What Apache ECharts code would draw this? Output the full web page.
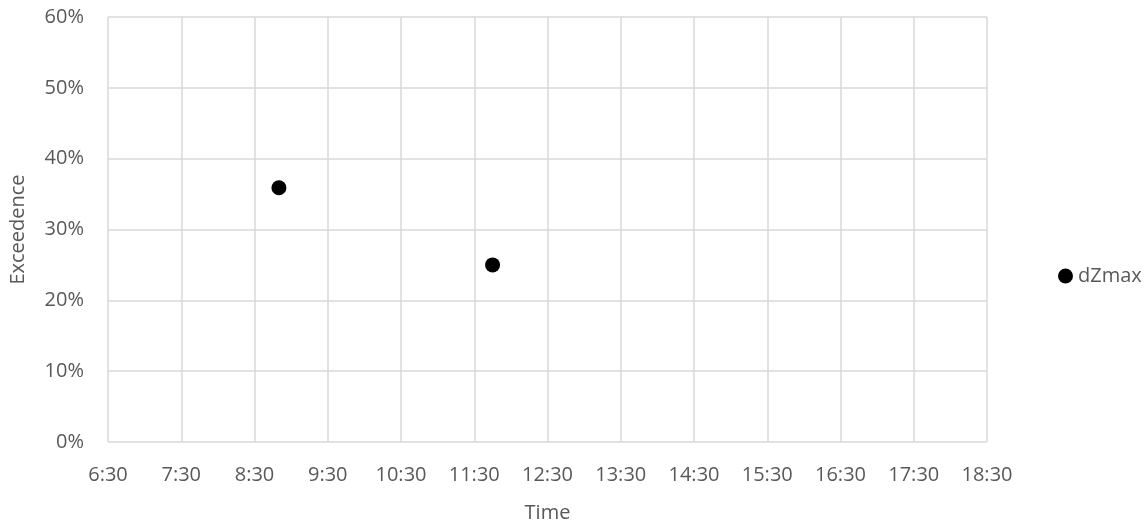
<!DOCTYPE html>
<html>
<head>
<meta charset="utf-8">
<script src="https://cdn.jsdelivr.net/npm/echarts@6/dist/echarts.min.js"></script>
<style>
html,body{margin:0;padding:0;background:#fff;}
#chart{width:1147px;height:528px;}
</style>
</head>
<body>
<div id="chart"></div>
<script>
// Data
const seriesName = 'dZmax';
const times = ['8:50', '11:45'];
const exceedence = [35.9, 25.0]; // percent
const xTickLabels = ['6:30','7:30','8:30','9:30','10:30','11:30','12:30','13:30','14:30','15:30','16:30','17:30','18:30'];
const yTickLabels = ['0%','10%','20%','30%','40%','50%','60%'];

function toHours(t){ const p = t.split(':'); return +p[0] + (+p[1])/60; }
const startHours = toHours(xTickLabels[0]);
const points = times.map((t, i) => [toHours(t) - startHours, exceedence[i]]);

const textColor = '#595959';
const gridColor = '#d9d9d9';
const fontFamily = '"Open Sans", "Noto Sans", sans-serif';

const chart = echarts.init(document.getElementById('chart'), null, {renderer: 'canvas'});
chart.setOption({
  animation: false,
  backgroundColor: '#ffffff',
  textStyle: {fontFamily: fontFamily},
  grid: {left: 107, right: 160, top: 17, bottom: 85, containLabel: false},
  legend: {
    data: [seriesName],
    left: 1053, top: 261,
    icon: 'circle', itemWidth: 15, itemHeight: 15,
    textStyle: {color: textColor, fontSize: 20, fontFamily: fontFamily}
  },
  xAxis: {
    type: 'value', min: 0, max: xTickLabels.length - 1, interval: 1,
    name: 'Time', nameLocation: 'middle', nameGap: 61,
    nameTextStyle: {color: textColor, fontSize: 20, fontFamily: fontFamily},
    axisLine: {show: false}, axisTick: {show: false},
    axisLabel: {color: textColor, fontSize: 20, margin: 23, fontFamily: fontFamily,
      formatter: v => xTickLabels[Math.round(v)]},
    splitLine: {show: true, lineStyle: {color: gridColor, width: 1.5}}
  },
  yAxis: {
    type: 'value', min: 0, max: 60, interval: 10,
    name: 'Exceedence', nameLocation: 'middle', nameGap: 80,
    nameTextStyle: {color: textColor, fontSize: 20, fontFamily: fontFamily},
    axisLine: {show: false}, axisTick: {show: false},
    axisLabel: {color: textColor, fontSize: 20, margin: 24, fontFamily: fontFamily,
      formatter: v => yTickLabels[Math.round(v / 10)]},
    splitLine: {show: true, lineStyle: {color: gridColor, width: 1.5}}
  },
  series: [{
    name: seriesName, type: 'scatter', data: points,
    symbol: 'circle', symbolSize: 15,
    itemStyle: {color: '#000000', opacity: 1}
  }]
});
</script>
</body>
</html>
